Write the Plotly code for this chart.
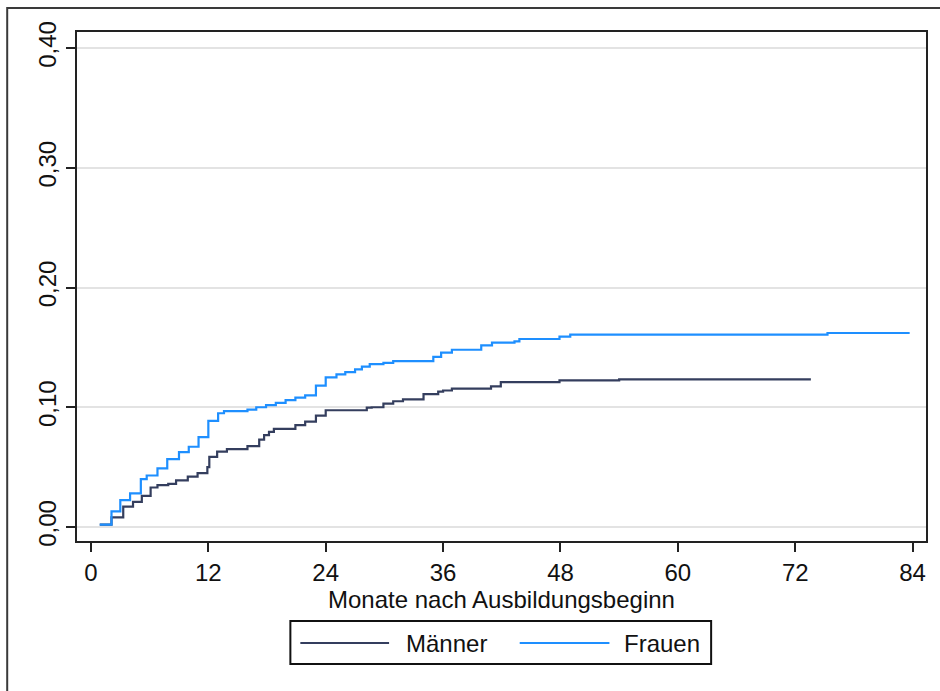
import plotly.graph_objects as go

# ---- data ----
maenner_months = [0.9, 2.1, 3.3, 4.3, 5.2, 6.1, 6.8, 7.9, 8.7, 9.9, 10.9, 11.9, 12.1, 12.9,
                  13.9, 16.0, 17.2, 17.7, 18.2, 18.7, 20.9, 21.9, 23.0, 24.0, 28.2, 28.7,
                  29.9, 30.9, 31.9, 34.0, 35.5, 36.0, 36.9, 40.9, 41.9, 47.9, 54.0, 73.6]
maenner_values = [0.002, 0.008, 0.017, 0.021, 0.026, 0.033, 0.035, 0.036, 0.039, 0.042, 0.045,
                  0.050, 0.0585, 0.063, 0.065, 0.0675, 0.073, 0.0767, 0.0795, 0.082, 0.085,
                  0.088, 0.093, 0.0975, 0.0997, 0.100, 0.103, 0.105, 0.1065, 0.111, 0.113,
                  0.114, 0.1156, 0.1175, 0.121, 0.1225, 0.1233, 0.1233]

frauen_months = [0.9, 2.1, 3.0, 4.0, 5.1, 5.7, 6.8, 7.8, 9.0, 10.0, 11.0, 12.0, 13.0, 13.6,
                 16.0, 16.9, 17.9, 18.9, 19.9, 20.9, 21.9, 23.0, 24.0, 25.1, 26.0, 27.0, 27.7,
                 28.5, 29.9, 30.9, 35.0, 35.8, 36.9, 39.9, 41.0, 43.3, 43.8, 47.9, 49.0, 75.3,
                 83.7]
frauen_values = [0.002, 0.013, 0.0225, 0.028, 0.040, 0.043, 0.049, 0.0567, 0.0625, 0.067,
                 0.075, 0.0886, 0.095, 0.0967, 0.098, 0.100, 0.1017, 0.1036, 0.106, 0.108,
                 0.110, 0.118, 0.125, 0.1275, 0.1294, 0.1317, 0.134, 0.136, 0.137, 0.1386,
                 0.142, 0.1456, 0.148, 0.1517, 0.154, 0.155, 0.157, 0.159, 0.1606, 0.162,
                 0.162]

series_names = ["Männer", "Frauen"]
series_colors = ["#343e5e", "#1e8fff"]

x_tickvals = [0, 12, 24, 36, 48, 60, 72, 84]
x_ticktext = ["0", "12", "24", "36", "48", "60", "72", "84"]
y_tickvals = [0.0, 0.1, 0.2, 0.3, 0.4]
y_ticktext = ["0,00", "0,10", "0,20", "0,30", "0,40"]
x_title = "Monate nach Ausbildungsbeginn"

FONT = "Liberation Sans, Arial, sans-serif"

fig = go.Figure()
fig.add_trace(go.Scatter(x=maenner_months, y=maenner_values, mode="lines",
                         line=dict(shape="hv", color=series_colors[0], width=2.2),
                         name=series_names[0], showlegend=False))
fig.add_trace(go.Scatter(x=frauen_months, y=frauen_values, mode="lines",
                         line=dict(shape="hv", color=series_colors[1], width=2.2),
                         name=series_names[1], showlegend=False))

fig.update_xaxes(range=[-1.427, 85.37], tickvals=x_tickvals, ticktext=x_ticktext,
                 showgrid=False, zeroline=False, showline=True, mirror=True,
                 linecolor="#222222", linewidth=2, ticks="outside", ticklen=9,
                 tickwidth=2, tickcolor="#222222",
                 tickfont=dict(family=FONT, size=24, color="#111111"))
fig.update_yaxes(range=[-0.01169, 0.41336], tickvals=y_tickvals, ticktext=y_ticktext,
                 showgrid=True, gridcolor="#e3e3e3", gridwidth=2, zeroline=False,
                 showline=True, mirror=True, linecolor="#222222", linewidth=2,
                 ticks="outside", ticklen=9, tickwidth=2, tickcolor="#222222",
                 tickangle=-90,
                 tickfont=dict(family=FONT, size=24, color="#111111"))

# paper-coordinate helpers (plot area spans px 77..928.5 horizontally, 32..541 vertically)
def px_x(p):
    return (p - 77) / 851.5

def px_y(p):
    return (541 - p) / 509.0

shapes = [
    # outer graph-region border
    dict(type="rect", xref="paper", yref="paper", x0=px_x(7), x1=px_x(950),
         y0=px_y(8), y1=px_y(710), line=dict(color="#3a3a3a", width=2), layer="below"),
    # legend box
    dict(type="rect", xref="paper", yref="paper", x0=px_x(291), x1=px_x(713),
         y0=px_y(621), y1=px_y(664), line=dict(color="#111111", width=2)),
    dict(type="line", xref="paper", yref="paper", x0=px_x(301), x1=px_x(390),
         y0=px_y(643), y1=px_y(643), line=dict(color=series_colors[0], width=2)),
    dict(type="line", xref="paper", yref="paper", x0=px_x(521), x1=px_x(611),
         y0=px_y(643), y1=px_y(643), line=dict(color=series_colors[1], width=2)),
]
annotations = [
    # x axis title
    dict(xref="paper", yref="paper", x=0.5, y=px_y(599), text=x_title,
         showarrow=False, xanchor="center", yanchor="middle",
         font=dict(family=FONT, size=24, color="#111111")),
    # legend labels
    dict(xref="paper", yref="paper", x=px_x(405), y=px_y(643), text=series_names[0],
         showarrow=False, xanchor="left", yanchor="middle",
         font=dict(family=FONT, size=24, color="#111111")),
    dict(xref="paper", yref="paper", x=px_x(624), y=px_y(643), text=series_names[1],
         showarrow=False, xanchor="left", yanchor="middle",
         font=dict(family=FONT, size=24, color="#111111")),
]

fig.update_layout(width=940, height=691, autosize=False,
                  margin=dict(l=77, r=12, t=32, b=150, pad=0),
                  plot_bgcolor="white", paper_bgcolor="white",
                  shapes=shapes, annotations=annotations, showlegend=False)

fig.write_html("out.html")
